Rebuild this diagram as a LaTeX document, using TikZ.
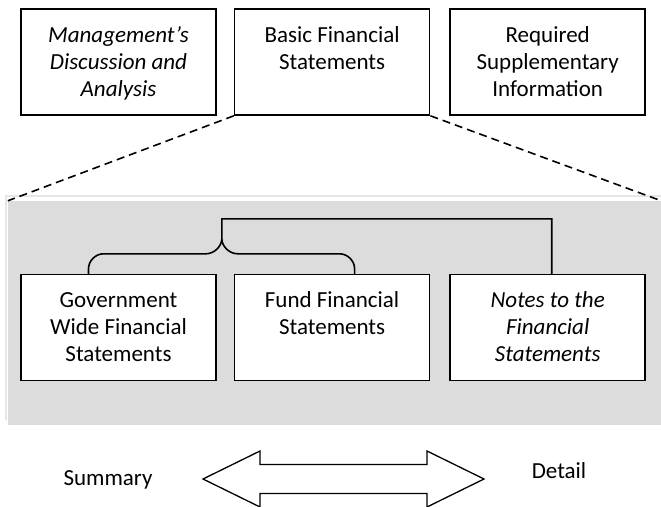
\documentclass[tikz,border=0pt]{standalone}
\usepackage{fontspec}
\setmainfont{Carlito}
\usetikzlibrary{calc,positioning}
\definecolor{panelgray}{HTML}{DCDCDC}
\definecolor{edgegray}{HTML}{E6E6E6}
% top aligned text inside a fixed size box
\newcommand{\boxlines}[1]{\parbox[c][106pt][t]{195pt}{\centering\rule{0pt}{33pt}#1}}

\begin{document}
\begin{tikzpicture}[x=1pt,y=-1pt,
	  every node/.style={font=\fontsize{23}{27}\selectfont,inner sep=0pt},
	  panel/.style={draw,line width=1.6pt,fill=white,minimum width=195pt,minimum height=106pt},
	  backdrop/.style={fill=panelgray,minimum width=653pt,minimum height=224pt},
	  bgedge/.style={draw=edgegray,line width=1.5pt},
	  zoomline/.style={line width=1.6pt,dash pattern=on 8pt off 5pt},
	  link/.style={line width=1.6pt},
	  spanarrow/.style={draw,line width=1.3pt,fill=white,line join=miter}]
	  \useasboundingbox (0,0) rectangle (661,506);

	  % grey panel behind the expanded part
	  \node[backdrop] (bg) at (334.5,313) {};
	  \draw[bgedge] ($(bg.south west)+(-2,-5)$) |- ($(bg.north east)+(0,-5)$);

	  % top row
	  \node[panel] (mda) at (118.5,62) {\boxlines{\itshape Management’s\\Discussion and\\Analysis}};
	  \node[panel,right=17pt of mda] (bfs) {\boxlines{Basic Financial\\Statements}};
	  \node[panel,right=19pt of bfs] (rsi) {\boxlines{Required\\Supplementary\\Information}};

	  % bottom row
	  \node[panel,below=158pt of mda] (gov) {\boxlines{Government\\Wide Financial\\Statements}};
	  \node[panel,right=17pt of gov] (fund) {\boxlines{Fund Financial\\Statements}};
	  \node[panel,right=19pt of fund] (notes) {\boxlines{\itshape Notes to the\\Financial\\Statements}};

	  \draw[zoomline] (bfs.south west) -- (bg.north west);
	  \draw[zoomline] (bfs.south east) -- (bg.north east);

	  % brace over the statements
	  \coordinate (cusp) at ($(gov.north east)+(5,-35)$);
	  \coordinate (bar) at ($(cusp)+(0,-20)$);
	  \coordinate (lft) at ([xshift=-30pt]gov.north);
	  \coordinate (rgt) at ([xshift=22.5pt]fund.north);
	  \draw[link] (lft) -- ($(lft)+(0,-5)$) .. controls ($(lft)+(0,-13)$) and ($(lft)+(7,-20)$) .. ($(lft)+(15,-20)$)
	      -- ($(cusp)+(-16,15)$) .. controls ($(cusp)+(-7,15)$) and ($(cusp)+(0,7)$) .. (cusp)
	      -- (bar) -| ([xshift=4pt]notes.north);
	  \draw[link] (rgt) -- ($(rgt)+(0,-5)$) .. controls ($(rgt)+(0,-13)$) and ($(rgt)+(-7,-20)$) .. ($(rgt)+(-15,-20)$)
	      -- ($(cusp)+(16,15)$) .. controls ($(cusp)+(7,15)$) and ($(cusp)+(0,7)$) .. (cusp);

	  % summary <-> detail
	  \coordinate (mid) at (343.5,479);
	  \draw[spanarrow] ($(mid)+(-140.5,0)$) -- ++(57,-28) -- ++(0,13.5) -- ++(167,0) -- ++(0,-13.5)
	      -- ($(mid)+(140.5,0)$) -- ++(-57,28) -- ++(0,-13.5) -- ++(-167,0) -- ++(0,13.5) -- cycle;
	  \node[anchor=base] (summary) at (108,485) {Summary};
	  \node[anchor=base] (detail) at (559,478) {Detail};
\end{tikzpicture}
\end{document}
